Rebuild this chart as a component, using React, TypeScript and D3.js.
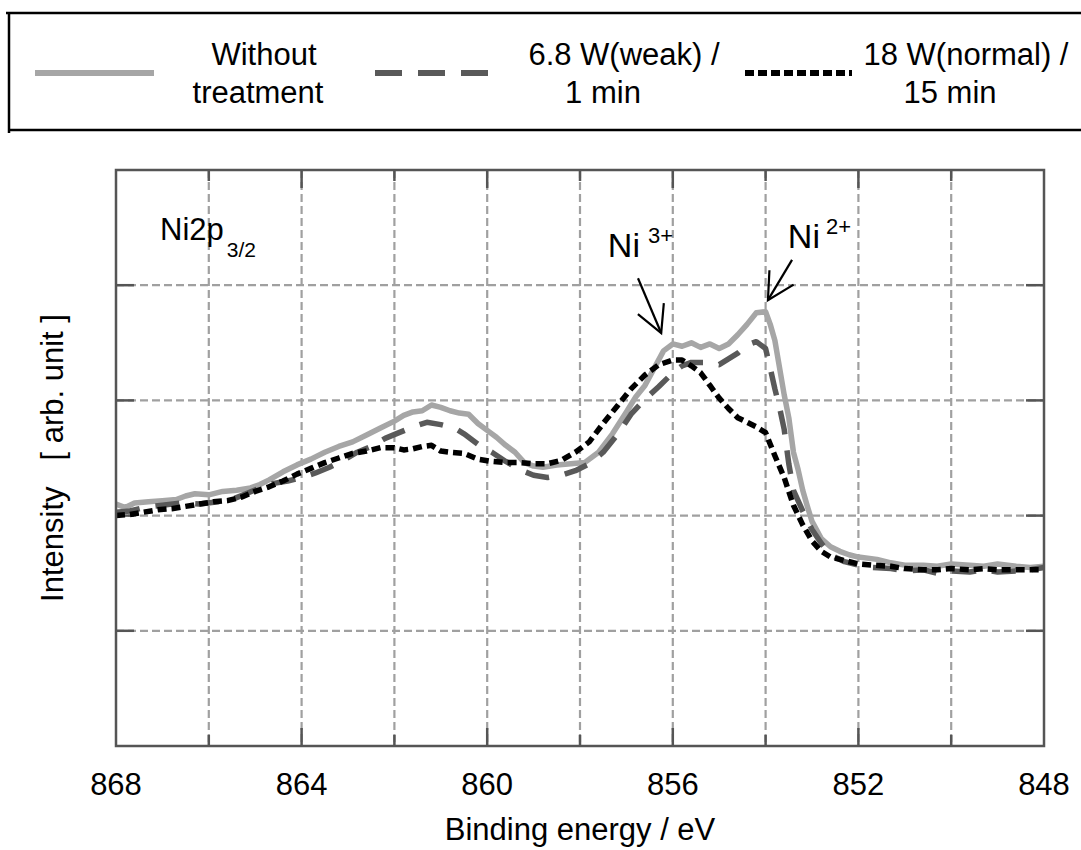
import React from "react";
import * as d3 from "d3";

// ---------- data ----------
const energyNone = [868.0,867.8,867.6,867.3,867.0,866.7,866.5,866.3,866.0,865.7,865.4,865.1,864.9,864.7,864.4,864.1,863.8,863.5,863.2,862.9,862.6,862.3,862.0,861.8,861.6,861.4,861.2,861.0,860.8,860.6,860.4,860.2,860.0,859.8,859.6,859.4,859.2,859.0,858.8,858.5,858.2,857.9,857.6,857.3,857.0,856.8,856.6,856.4,856.2,856.0,855.8,855.6,855.4,855.2,855.0,854.8,854.6,854.4,854.2,854.0,853.9,853.8,853.6,853.5,853.4,853.3,853.2,853.1,853.0,852.8,852.6,852.4,852.2,852.0,851.6,851.3,851.0,850.6,850.3,850.0,849.6,849.3,849.0,848.6,848.3,848.0];
const intensityNone = [2.10,2.07,2.11,2.12,2.13,2.14,2.17,2.19,2.18,2.21,2.22,2.24,2.27,2.31,2.38,2.44,2.49,2.55,2.60,2.64,2.70,2.76,2.82,2.87,2.90,2.91,2.96,2.94,2.91,2.89,2.88,2.80,2.74,2.68,2.61,2.55,2.46,2.43,2.42,2.44,2.45,2.46,2.55,2.71,2.90,3.03,3.13,3.28,3.43,3.49,3.47,3.50,3.46,3.49,3.45,3.49,3.57,3.66,3.76,3.77,3.66,3.52,3.05,2.85,2.55,2.40,2.22,2.08,1.95,1.80,1.73,1.69,1.66,1.64,1.62,1.59,1.57,1.57,1.56,1.58,1.57,1.56,1.58,1.56,1.55,1.56];

const energyWeak = [868.0,867.7,867.4,867.0,866.6,866.2,865.8,865.5,865.2,864.9,864.6,864.3,864.0,863.7,863.4,863.1,862.8,862.5,862.2,861.9,861.6,861.3,861.0,860.7,860.5,860.2,859.9,859.6,859.3,859.0,858.7,858.4,858.1,857.8,857.5,857.2,856.9,856.6,856.3,856.0,855.8,855.6,855.3,855.0,854.8,854.6,854.4,854.2,854.0,853.9,853.8,853.7,853.6,853.5,853.4,853.2,853.0,852.8,852.6,852.3,852.0,851.7,851.3,851.0,850.6,850.3,850.0,849.6,849.3,849.0,848.6,848.3,848.0];
const intensityWeak = [2.03,2.04,2.07,2.09,2.11,2.10,2.12,2.14,2.19,2.24,2.28,2.30,2.33,2.37,2.42,2.48,2.55,2.60,2.67,2.72,2.77,2.81,2.79,2.76,2.71,2.62,2.55,2.47,2.40,2.35,2.33,2.35,2.39,2.45,2.55,2.70,2.88,3.01,3.12,3.24,3.30,3.33,3.33,3.31,3.36,3.41,3.48,3.51,3.45,3.28,3.10,2.94,2.75,2.45,2.22,2.04,1.88,1.76,1.66,1.60,1.57,1.55,1.54,1.52,1.53,1.50,1.52,1.51,1.53,1.51,1.52,1.53,1.55];

const energyNormal = [868.0,867.7,867.4,867.1,866.8,866.5,866.2,865.9,865.6,865.3,865.0,864.7,864.4,864.1,863.8,863.5,863.2,862.9,862.6,862.3,862.0,861.8,861.6,861.4,861.2,861.0,860.8,860.5,860.2,859.9,859.6,859.3,859.0,858.7,858.4,858.1,857.8,857.5,857.2,856.9,856.6,856.3,856.0,855.8,855.6,855.4,855.2,855.0,854.8,854.6,854.4,854.2,854.0,853.9,853.8,853.6,853.4,853.2,853.0,852.8,852.6,852.3,852.0,851.7,851.3,851.0,850.6,850.3,850.0,849.6,849.3,849.0,848.6,848.3,848.0];
const intensityNormal = [2.00,2.01,2.03,2.05,2.06,2.08,2.10,2.12,2.13,2.16,2.21,2.25,2.30,2.36,2.41,2.46,2.50,2.54,2.56,2.59,2.59,2.57,2.58,2.60,2.61,2.56,2.55,2.54,2.49,2.47,2.46,2.46,2.45,2.45,2.48,2.55,2.64,2.80,2.95,3.10,3.22,3.31,3.35,3.35,3.30,3.24,3.13,3.02,2.93,2.85,2.81,2.77,2.72,2.62,2.52,2.33,2.09,1.92,1.78,1.69,1.64,1.61,1.58,1.57,1.56,1.54,1.53,1.53,1.54,1.53,1.54,1.53,1.53,1.53,1.53];

const seriesNames = ["Without", "6.8 W(weak) /", "18 W(normal) /"];
const seriesNames2 = ["treatment", "1 min", "15 min"];

const xTickValues = [868, 864, 860, 856, 852, 848];
const xGridValues = [866, 864, 862, 860, 858, 856, 854, 852, 850];
const yGridValues = [1, 2, 3, 4];

// annotation anchors (data units)
const ni3Label = { e: 857.4, v: 4.245 };
const ni3Arrow = { e0: 856.75, v0: 4.06, e1: 856.25, v1: 3.585 };
const ni2Label = { e: 853.52, v: 4.32 };
const ni2Arrow = { e0: 853.43, v0: 4.22, e1: 853.95, v1: 3.87 };
const niLabel = { e: 867.05, v: 4.39 };

const FONT = "'Liberation Sans', Arial, Helvetica, sans-serif";

export default function App() {
  const W = 1081, H = 850;
  const left = 116, right = 1044, top = 170, bottom = 746;
  const x = d3.scaleLinear().domain([868, 848]).range([left, right]);
  const y = d3.scaleLinear().domain([0, 5]).range([bottom, top]);

  const line = d3.line<[number, number]>().x(d => x(d[0])).y(d => y(d[1])).curve(d3.curveLinear);
  const zip = (a: number[], b: number[]) => a.map((v, i) => [v, b[i]] as [number, number]);

  const series = [
    { d: zip(energyNone, intensityNone), color: "#a6a6a6", dash: undefined as string | undefined, w: 5.5 },
    { d: zip(energyWeak, intensityWeak), color: "#595959", dash: "24,16", w: 5.5 },
    { d: zip(energyNormal, intensityNormal), color: "#000000", dash: "9,5", w: 5.5 },
  ];

  const arrowHead = (a: { e0: number; v0: number; e1: number; v1: number }) => {
    const x0 = x(a.e0), y0 = y(a.v0), x1 = x(a.e1), y1 = y(a.v1);
    const ang = Math.atan2(y0 - y1, x0 - x1);
    const L = 30, s = (28 * Math.PI) / 180;
    const p1 = [x1 + L * Math.cos(ang - s), y1 + L * Math.sin(ang - s)];
    const p2 = [x1 + L * Math.cos(ang + s), y1 + L * Math.sin(ang + s)];
    return (
      <g stroke="#000" strokeWidth={2.2} fill="none">
        <line x1={x0} y1={y0} x2={x1} y2={y1} />
        <polyline points={`${p1[0]},${p1[1]} ${x1},${y1} ${p2[0]},${p2[1]}`} />
      </g>
    );
  };

  const legendItems = [
    { x1: 35, x2: 154, c1: 264, c2: 258 },
    { x1: 375, x2: 488, c1: 624, c2: 603 },
    { x1: 745, x2: 852, c1: 966, c2: 950 },
  ];

  return (
    <svg width={W} height={H} style={{ position: "absolute", left: 0, top: 0, background: "#fff" }} fontFamily={FONT}>
      {/* legend box */}
      <g stroke="#000" strokeWidth={2.5}>
        <line x1={6} y1={13} x2={W} y2={13} />
        <line x1={9} y1={12} x2={9} y2={133} />
        <line x1={9} y1={130} x2={W} y2={130} />
      </g>
      {legendItems.map((li, i) => (
        <g key={i}>
          <line x1={li.x1} x2={li.x2} y1={73} y2={73} stroke={series[i].color} strokeWidth={6}
            strokeDasharray={i === 1 ? "27,16" : i === 2 ? "9,4" : undefined} />
          <text x={li.c1} y={65} fontSize={31} textAnchor="middle">{seriesNames[i]}</text>
          <text x={li.c2} y={103} fontSize={31} textAnchor="middle">{seriesNames2[i]}</text>
        </g>
      ))}

      {/* grid */}
      <g stroke="#a0a0a0" strokeWidth={2.2} strokeDasharray="8,4">
        {xGridValues.map(v => <line key={"gx" + v} x1={x(v)} x2={x(v)} y1={top} y2={bottom} />)}
        {yGridValues.map(v => <line key={"gy" + v} x1={left} x2={right} y1={y(v)} y2={y(v)} />)}
      </g>

      {/* ticks */}
      <g stroke="#555" strokeWidth={2.5}>
        {xGridValues.map(v => {
          const major = xTickValues.includes(v);
          const len = major ? 18 : 11;
          return (
            <g key={"t" + v}>
              <line x1={x(v)} x2={x(v)} y1={bottom} y2={bottom - len} />
              <line x1={x(v)} x2={x(v)} y1={top} y2={top + len} />
            </g>
          );
        })}
        {yGridValues.map(v => (
          <g key={"ty" + v}>
            <line x1={left} x2={left + 18} y1={y(v)} y2={y(v)} />
            <line x1={right} x2={right - 18} y1={y(v)} y2={y(v)} />
          </g>
        ))}
      </g>

      {/* series */}
      {series.map((s, i) => (
        <path key={i} d={line(s.d) || ""} fill="none" stroke={s.color} strokeWidth={s.w}
          strokeDasharray={s.dash} strokeLinejoin="round" />
      ))}

      {/* frame */}
      <rect x={left} y={top} width={right - left} height={bottom - top} fill="none" stroke="#555" strokeWidth={2.5} />

      {/* x tick labels */}
      {xTickValues.map(v => (
        <text key={"l" + v} x={x(v)} y={795} fontSize={31} textAnchor="middle">{v}</text>
      ))}
      <text x={(left + right) / 2} y={840} fontSize={31} textAnchor="middle">Binding energy / eV</text>
      <text transform={`translate(63,${(top + bottom) / 2}) rotate(-90)`} fontSize={31} textAnchor="middle" xmlSpace="preserve">
        {"Intensity   [ arb. unit ]"}
      </text>

      {/* annotations */}
      <text x={x(niLabel.e)} y={y(niLabel.v)} fontSize={31}>
        Ni2p<tspan fontSize={21} dx={3} dy={17}>3/2</tspan>
      </text>
      <text x={x(ni3Label.e)} y={y(ni3Label.v)} fontSize={34}>
        Ni<tspan fontSize={22} dx={8} dy={-14}>3+</tspan>
      </text>
      <text x={x(ni2Label.e)} y={y(ni2Label.v)} fontSize={34}>
        Ni<tspan fontSize={22} dx={6} dy={-14}>2+</tspan>
      </text>
      {arrowHead(ni3Arrow)}
      {arrowHead(ni2Arrow)}
    </svg>
  );
}
